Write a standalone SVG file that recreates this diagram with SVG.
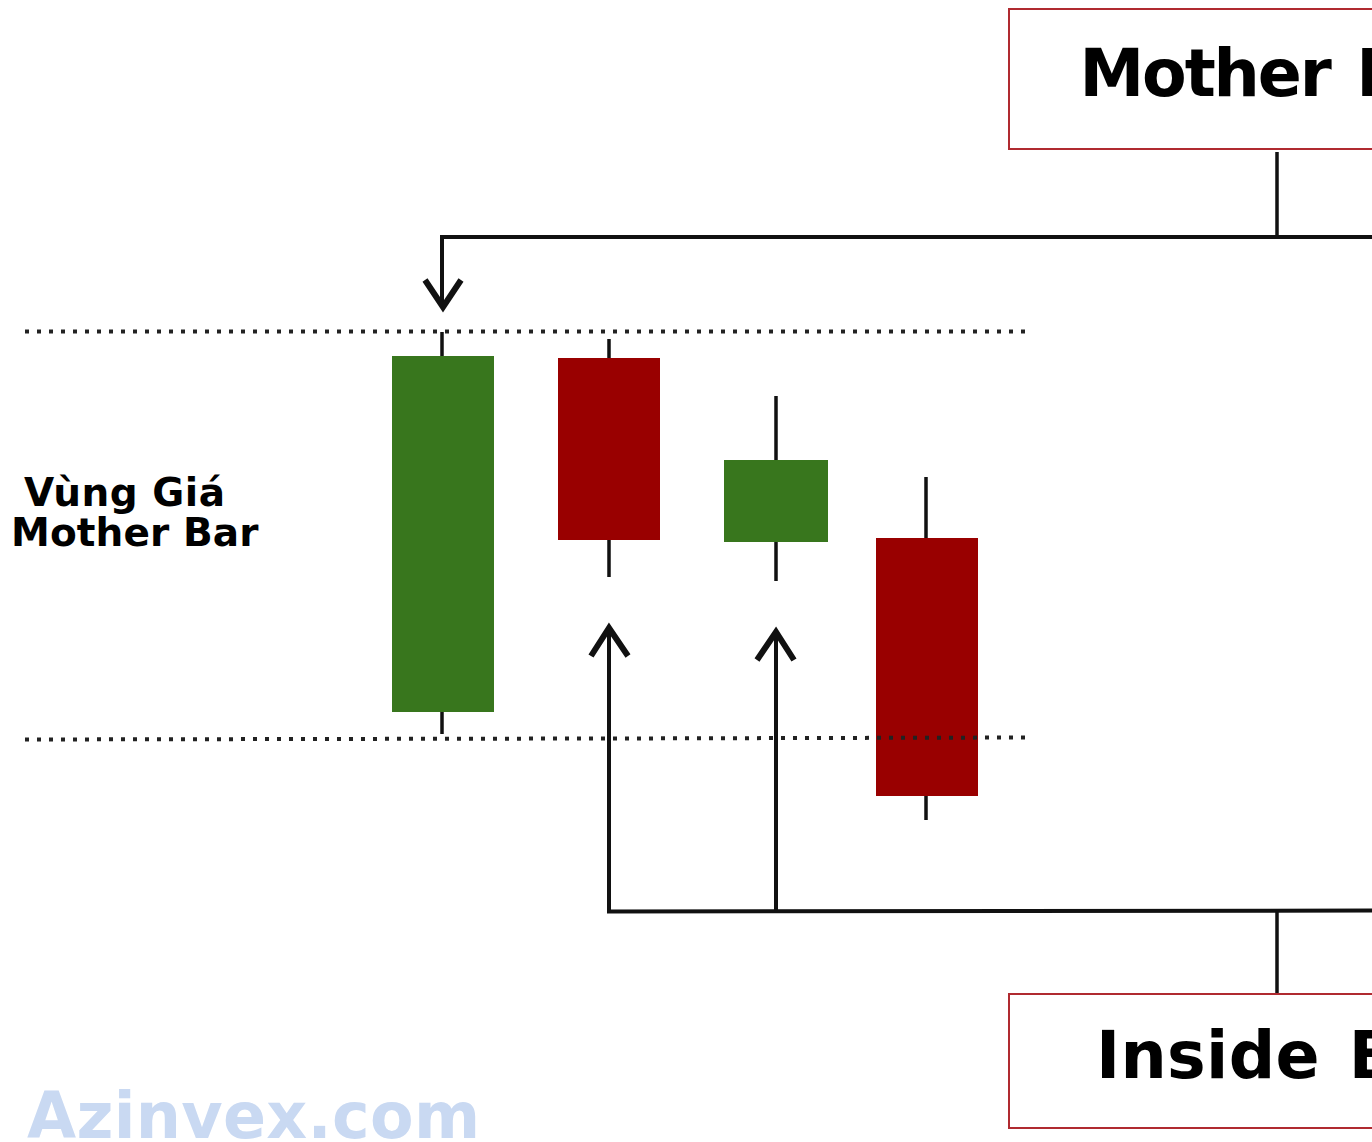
<svg xmlns="http://www.w3.org/2000/svg" width="1372" height="1142" viewBox="0 0 1372 1142">
<style>
text{font-family:"DejaVu Sans",sans-serif;font-weight:700;fill:#000}
.box{fill:#fff;stroke:#b02a30;stroke-width:2}
.conn{fill:none;stroke:#111;stroke-width:4}
.thin{fill:none;stroke:#111;stroke-width:3.500}
.head{fill:none;stroke:#111;stroke-width:6}
.wick{stroke:#111;stroke-width:3.500;fill:none}
.dot{fill:none;stroke:#222;stroke-width:4;stroke-dasharray:4 8}
.g{fill:#38761d}.r{fill:#990000}
</style>
<rect width="1372" height="1142" fill="#fff"/>
<g id="candle-1"><path class="wick" d="M442 332V357M442 712V734"/><rect class="g" x="392" y="356" width="102" height="356"/></g>
<g id="candle-2"><path class="wick" d="M609 339V359M609 540V577"/><rect class="r" x="558" y="358" width="102" height="182"/></g>
<g id="candle-3"><path class="wick" d="M776 396V461M776 542V581"/><rect class="g" x="724" y="460" width="104" height="82"/></g>
<g id="candle-4"><path class="wick" d="M926 477V539M926 796V820"/><rect class="r" x="876" y="538" width="102" height="258"/></g>
<g id="levels">
<path class="dot" d="M25 331.500H1027"/>
<path class="dot" d="M25 739.500L600 738.500L1027 737.500"/>
</g>
<g id="connectors">
<path class="thin" d="M1277 152V237M1277 993V911"/>
<path class="conn" d="M1372 237H442V306"/>
<path class="head" d="M425 280L443 307L461 280"/>
<path class="conn" d="M1372 910.500L609 911.500V626M776 911V630"/>
<path class="head" d="M591 656L609 628L628 656M757 660L776 632L794 660"/>
</g>
<g id="mother-bar"><rect class="box" x="1009" y="9" width="400" height="140"/><text x="1079.500" y="96" font-size="65" letter-spacing="-2.100" word-spacing="6">Mother Bar</text></g>
<g id="inside-bar"><rect class="box" x="1009" y="994" width="400" height="134"/><text x="1096" y="1078" font-size="65" letter-spacing="0.300" word-spacing="6">Inside Bar</text></g>
<g id="zone-label"><text x="24" y="506" font-size="39" letter-spacing="0.500">Vùng Giá</text><text x="11" y="546" font-size="39" letter-spacing="0.100">Mother Bar</text></g>
<g id="watermark"><text x="27" y="1138" font-size="63.500" letter-spacing="0.300" style="fill:#c9d9f2">Azinvex.com</text></g>
</svg>
